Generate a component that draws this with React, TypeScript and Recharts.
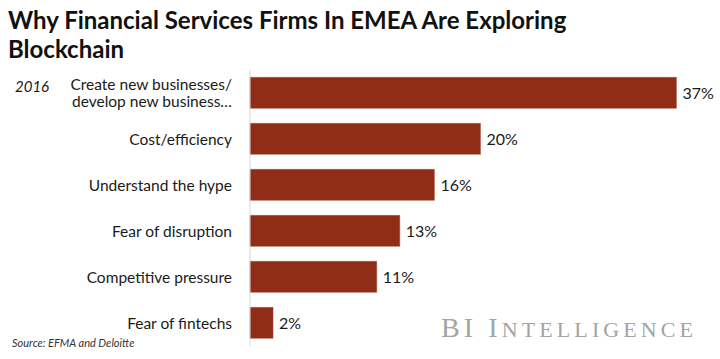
import { BarChart, Bar, XAxis, YAxis, LabelList } from 'recharts';

const categories = [
  'Create new businesses/|develop new business…',
  'Cost/efficiency',
  'Understand the hype',
  'Fear of disruption',
  'Competitive pressure',
  'Fear of fintechs',
];
const shares = [37, 20, 16, 13, 11, 2];

const data = categories.map((name, i) => ({ name, value: shares[i] }));

const LABEL_FONT = 'Lato, "Open Sans", sans-serif';
const LINE_GAP = 17;

// tick du axe Y : texte aligné à droite, sur deux lignes si besoin
const CategoryTick = (props: any) => {
  const { x, y, payload } = props;
  const lines = String(payload.value).split('|');
  const start = -((lines.length - 1) * LINE_GAP) / 2;
  return (
    <g>
      {lines.map((line, i) => (
        <text
          key={i}
          x={x}
          y={y + start + i * LINE_GAP + 5.5}
          textAnchor="end"
          fill="#1a1a1a"
          fontSize={15.5}
          fontFamily={LABEL_FONT}
        >
          {line}
        </text>
      ))}
    </g>
  );
};

export default function App() {
  return (
    <div style={{ position: 'absolute', left: 0, top: 0, width: 720, height: 359, background: '#fff', overflow: 'hidden' }}>
      <div
        style={{
          position: 'absolute',
          left: 8,
          top: 5,
          width: 700,
          fontFamily: LABEL_FONT,
          fontWeight: 700,
          fontSize: 24,
          lineHeight: '29px',
          color: '#111',
        }}
      >
        Why Financial Services Firms In EMEA Are Exploring
        <br />
        Blockchain
      </div>
      <div style={{ position: 'absolute', left: 15, top: 77, fontFamily: LABEL_FONT, fontStyle: 'italic', fontSize: 15, color: '#1a1a1a' }}>
        2016
      </div>

      <BarChart
        layout="vertical"
        width={720}
        height={359}
        data={data}
        margin={{ top: 70, right: 9, bottom: 13, left: 10 }}
        barCategoryGap="16%"
        style={{ position: 'absolute', left: 0, top: 0 }}
      >
        <XAxis type="number" domain={[0, 40]} hide />
        <YAxis
          type="category"
          dataKey="name"
          width={240}
          tickLine={false}
          tickSize={0}
          tickMargin={18}
          axisLine={{ stroke: '#d9d9d9' }}
          tick={<CategoryTick />}
          interval={0}
        />
        <Bar dataKey="value" fill="#8f2d17" stroke="#a8533f" strokeWidth={0.5} isAnimationActive={false}>
          <LabelList
            dataKey="value"
            position="right"
            offset={6}
            formatter={(v: any) => `${v}%`}
            fill="#1a1a1a"
            fontSize={16}
            fontFamily={LABEL_FONT}
          />
        </Bar>
      </BarChart>

      <div style={{ position: 'absolute', left: 12, top: 336, fontFamily: LABEL_FONT, fontStyle: 'italic', fontSize: 11, color: '#333' }}>
        Source: EFMA and Deloitte
      </div>
      <div
        style={{
          position: 'absolute',
          left: 441,
          top: 312,
          fontFamily: '"Liberation Serif", serif',
          fontSize: 28,
          lineHeight: '32px',
          letterSpacing: 4.1,
          color: '#a3a3a3',
          whiteSpace: 'nowrap',
        }}
      >
        BI I<span style={{ fontSize: 22 }}>NTELLIGENCE</span>
      </div>
    </div>
  );
}
